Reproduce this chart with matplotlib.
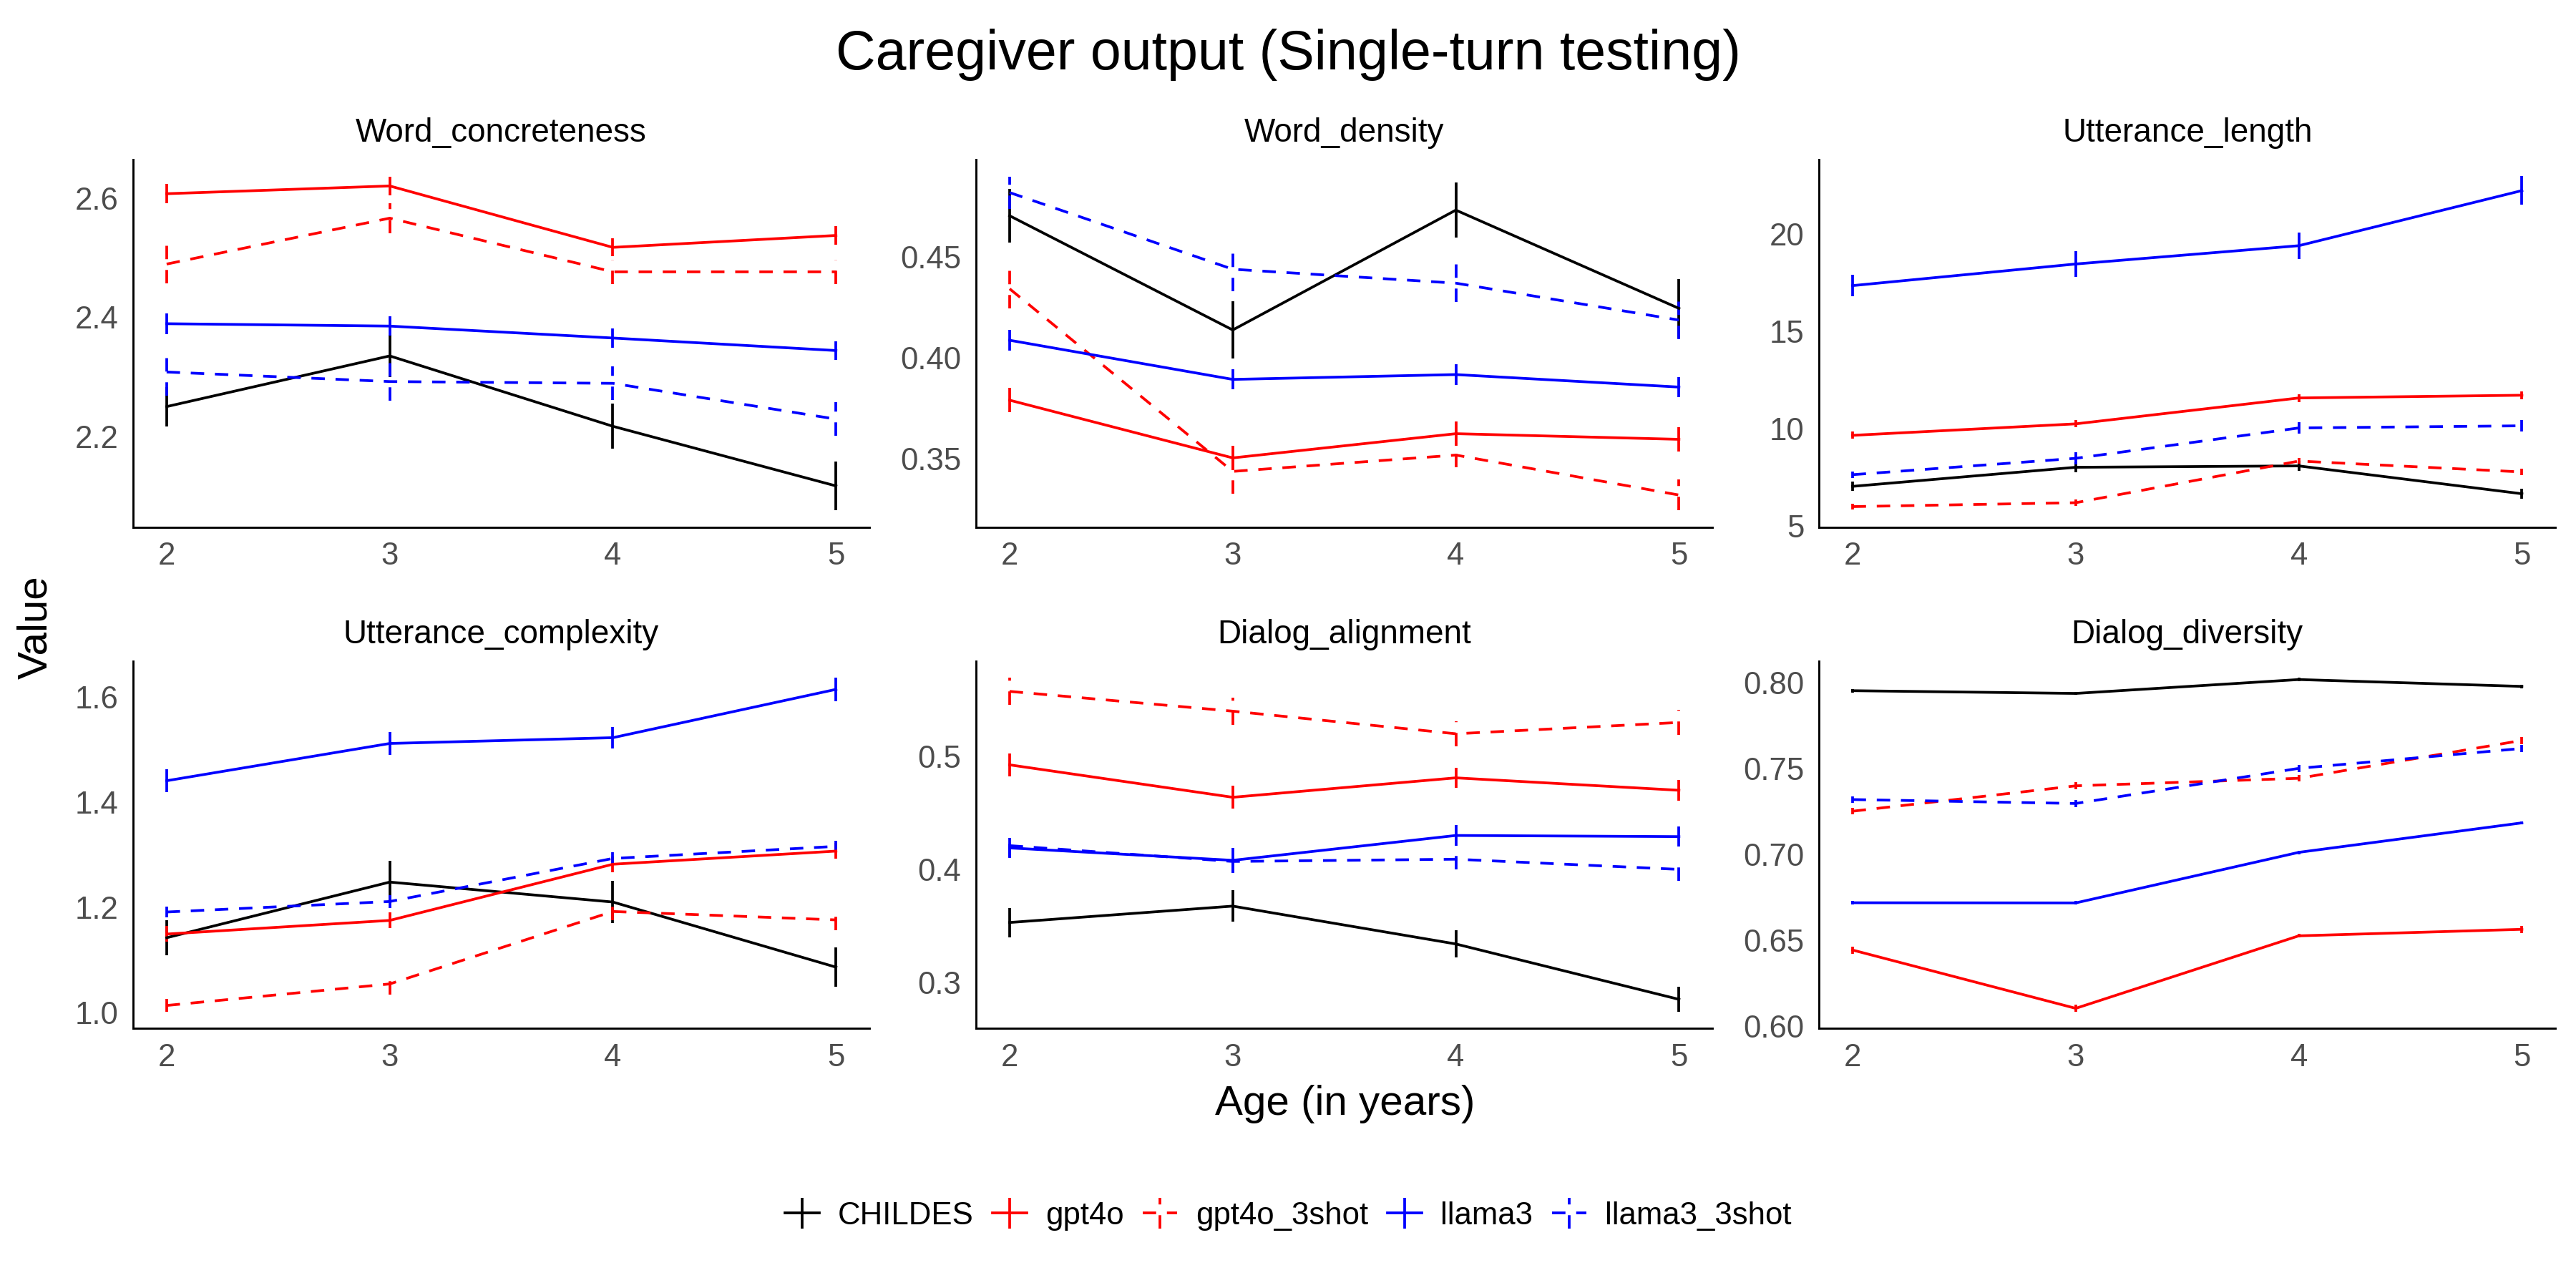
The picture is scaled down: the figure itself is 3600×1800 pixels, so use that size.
import numpy as np
import matplotlib
matplotlib.use("Agg")
import matplotlib.pyplot as plt

plt.rcParams['font.family'] = ['Liberation Sans', 'DejaVu Sans']

# Data
#--------------------------------------------------------------------
ages = [2, 3, 4, 5]
series = ["CHILDES", "gpt4o", "gpt4o_3shot", "llama3", "llama3_3shot"]
colors = ["black", "#FF0000", "#FF0000", "#0000FF", "#0000FF"]
styles = ["-", "-", "--", "-", "--"]

panel_titles = ["Word_concreteness", "Word_density", "Utterance_length",
                "Utterance_complexity", "Dialog_alignment", "Dialog_diversity"]

# rows follow the order of `series`
concreteness = [[2.250, 2.335, 2.217, 2.117],
                [2.607, 2.620, 2.517, 2.537],
                [2.489, 2.566, 2.476, 2.476],
                [2.389, 2.385, 2.365, 2.344],
                [2.308, 2.292, 2.289, 2.229]]
concreteness_se = [[0.033, 0.035, 0.038, 0.041],
                   [0.016, 0.016, 0.015, 0.016],
                   [0.032, 0.025, 0.020, 0.020],
                   [0.017, 0.016, 0.016, 0.016],
                   [0.040, 0.032, 0.028, 0.028]]

density = [[0.4703, 0.4137, 0.4731, 0.4244],
           [0.3789, 0.3503, 0.3623, 0.3595],
           [0.4341, 0.3436, 0.3517, 0.3319],
           [0.4086, 0.3892, 0.3916, 0.3854],
           [0.4818, 0.4438, 0.4369, 0.4186]]
density_se = [[0.0134, 0.0143, 0.0136, 0.0145],
              [0.0060, 0.0060, 0.0060, 0.0060],
              [0.0097, 0.0110, 0.0060, 0.0076],
              [0.0050, 0.0050, 0.0050, 0.0050],
              [0.0080, 0.0110, 0.0093, 0.0093]]

length = [[7.04, 8.02, 8.09, 6.66],
          [9.66, 10.25, 11.58, 11.72],
          [6.00, 6.20, 8.34, 7.78],
          [17.35, 18.46, 19.40, 22.23],
          [7.64, 8.48, 10.04, 10.15]]
length_se = [[0.25, 0.25, 0.25, 0.25],
             [0.18, 0.18, 0.20, 0.20],
             [0.15, 0.15, 0.15, 0.15],
             [0.54, 0.65, 0.68, 0.73],
             [0.16, 0.30, 0.30, 0.30]]

complexity = [[1.142, 1.248, 1.210, 1.086],
              [1.149, 1.175, 1.282, 1.307],
              [1.013, 1.054, 1.192, 1.176],
              [1.441, 1.512, 1.523, 1.615],
              [1.191, 1.211, 1.293, 1.316]]
complexity_se = [[0.033, 0.040, 0.040, 0.038],
                 [0.015, 0.015, 0.015, 0.015],
                 [0.012, 0.020, 0.017, 0.020],
                 [0.022, 0.022, 0.020, 0.022],
                 [0.010, 0.012, 0.012, 0.010]]

alignment = [[0.353, 0.3675, 0.334, 0.285],
             [0.4925, 0.4638, 0.481, 0.470],
             [0.5575, 0.540, 0.520, 0.530],
             [0.419, 0.408, 0.430, 0.429],
             [0.421, 0.407, 0.409, 0.400]]
alignment_se = [[0.013, 0.014, 0.012, 0.011],
                [0.010, 0.010, 0.009, 0.009],
                [0.012, 0.012, 0.011, 0.011],
                [0.009, 0.011, 0.009, 0.009],
                [0.010, 0.010, 0.009, 0.010]]

diversity = [[0.7955, 0.7939, 0.8020, 0.7980],
             [0.6442, 0.6102, 0.6525, 0.6563],
             [0.7252, 0.7400, 0.7444, 0.7665],
             [0.6718, 0.6717, 0.7012, 0.7184],
             [0.7320, 0.7297, 0.7502, 0.7618]]
diversity_se = [[0.001, 0.001, 0.001, 0.001],
                [0.002, 0.002, 0.001, 0.002],
                [0.002, 0.002, 0.002, 0.002],
                [0.001, 0.001, 0.001, 0.001],
                [0.002, 0.002, 0.002, 0.002]]

panel_means = [concreteness, density, length, complexity, alignment, diversity]
panel_ses = [concreteness_se, density_se, length_se, complexity_se, alignment_se, diversity_se]

yticks = [[2.2, 2.4, 2.6], [0.35, 0.40, 0.45], [5, 10, 15, 20],
          [1.0, 1.2, 1.4, 1.6], [0.3, 0.4, 0.5], [0.60, 0.65, 0.70, 0.75, 0.80]]
yfmt = ["%.1f", "%.2f", "%d", "%.1f", "%.1f", "%.2f"]

# Plot
#--------------------------------------------------------------------
fig, axes = plt.subplots(2, 3, figsize=(12, 6), dpi=300)
plt.subplots_adjust(left=0.0517, right=0.992, bottom=0.2015, top=0.876,
                    wspace=0.145, hspace=0.365)

handles = []
for k, ax in enumerate(axes.flat):
    means = panel_means[k]
    ses = panel_ses[k]
    for j in range(len(series)):
        eb = ax.errorbar(ages, means[j], yerr=ses[j], color=colors[j],
                         linestyle=styles[j], linewidth=0.9, elinewidth=0.9,
                         capsize=0, label=series[j])
        if styles[j] == "--":
            eb[0].set_dashes((5, 4))
            eb[2][0].set_linestyle((0, (5, 4)))
        if k == 0:
            handles.append(eb)
    ax.set_title(panel_titles[k], fontsize=11, pad=6)
    ax.set_xticks(ages)
    ax.set_xticklabels([str(a) for a in ages])
    ax.set_yticks(yticks[k])
    ax.set_yticklabels([yfmt[k] % v for v in yticks[k]])
    ax.margins(x=0.05, y=0.05)
    if k == 2:
        # the reference keeps the "5" tick right on the axis
        ax.set_ylim(4.95, ax.get_ylim()[1])
    for s in ["top", "right"]:
        ax.spines[s].set_visible(False)
    for s in ["left", "bottom"]:
        ax.spines[s].set_linewidth(0.7)
        ax.spines[s].set_color("black")
    ax.tick_params(length=0, labelsize=10.5, labelcolor="#4D4D4D", pad=5)

fig.suptitle("Caregiver output (Single-turn testing)", fontsize=18.5, y=0.978)
fig.text(0.014, 0.513, "Value", rotation=90, fontsize=14, ha="center", va="center")
fig.text(0.522, 0.143, "Age (in years)", fontsize=14, ha="center", va="center")

fig.legend(handles, series, loc="center", bbox_to_anchor=(0.5, 0.056), ncol=5,
           frameon=False, fontsize=10.5, handlelength=1.1, handletextpad=0.6,
           columnspacing=0.6)

plt.savefig("out.png", dpi=300)
